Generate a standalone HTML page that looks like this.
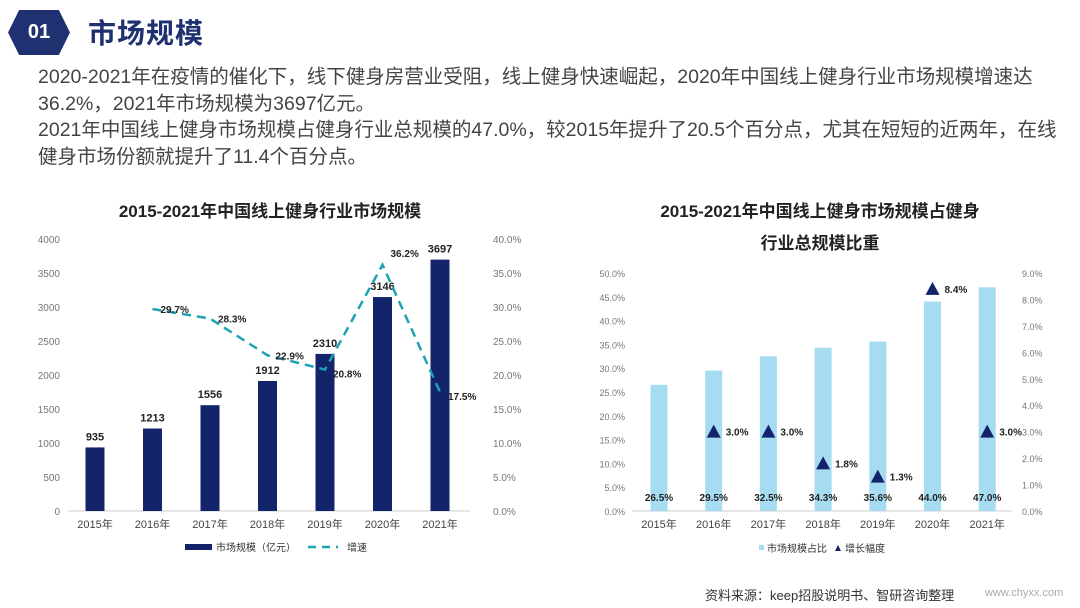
<!DOCTYPE html>
<html><head><meta charset="utf-8">
<style>
body{margin:0;width:1080px;height:608px;background:#fff;overflow:hidden;font-family:"Liberation Sans","Noto Sans CJK SC",sans-serif;position:relative}
.hex{position:absolute;left:8px;top:10px;width:62px;height:45px;background:#1f3170;clip-path:polygon(18% 0,82% 0,100% 50%,82% 100%,18% 100%,0 50%);color:#fff;font-weight:bold;font-size:20px;line-height:45px;text-align:center}
.title{position:absolute;left:88px;top:12px;font-size:28px;font-weight:bold;color:#1f3170;letter-spacing:1px}
.desc{position:absolute;left:38px;top:64px;font-size:19.5px;line-height:26.5px;color:#444;white-space:nowrap}
svg text{font-family:"Liberation Sans","Noto Sans CJK SC",sans-serif}
.src{position:absolute;left:705px;top:585px;font-size:13px;color:#333}
.url{position:absolute;left:985px;top:587px;font-size:11px;color:#aaa}
</style></head><body>
<div class="hex">01</div>
<div class="title">市场规模</div>
<div class="desc">2020-2021年在疫情的催化下，线下健身房营业受阻，线上健身快速崛起，2020年中国线上健身行业市场规模增速达<br>36.2%，2021年市场规模为3697亿元。<br>2021年中国线上健身市场规模占健身行业总规模的47.0%，较2015年提升了20.5个百分点，尤其在短短的近两年，在线<br>健身市场份额就提升了11.4个百分点。</div>
<svg id="c1" width="540" height="400" style="position:absolute;left:0;top:190px"></svg>
<svg id="c2" width="540" height="400" style="position:absolute;left:540px;top:190px"></svg>
<div class="src">资料来源：keep招股说明书、智研咨询整理</div>
<div class="url">www.chyxx.com</div>
<script>
const years=["2015年","2016年","2017年","2018年","2019年","2020年","2021年"];
const marketSize=[935,1213,1556,1912,2310,3146,3697];
const growth=[null,29.7,28.3,22.9,20.8,36.2,17.5];
const leftTicks=[0,500,1000,1500,2000,2500,3000,3500,4000];
const rightTicks=[0,5,10,15,20,25,30,35,40];
const shareVals=[26.5,29.5,32.5,34.3,35.6,44.0,47.0];
const shareInc=[null,3.0,3.0,1.8,1.3,8.4,3.0];
const shareLeftTicks=[0,5,10,15,20,25,30,35,40,45,50];
const shareRightTicks=[0,1,2,3,4,5,6,7,8,9];
const NS="http://www.w3.org/2000/svg";
function mk(svg,tag,attrs,txt){const e=document.createElementNS(NS,tag);for(const k in attrs)e.setAttribute(k,attrs[k]);if(txt!==undefined)e.textContent=txt;svg.appendChild(e);return e;}
(function(){
const s=document.getElementById('c1');
const y0=321,h=272,x0=95,dx=57.5;
const yL=v=>y0-v/4000*h, yR=v=>y0-v/40*h, xC=i=>x0+i*dx;
let t=mk(s,'text',{x:270,y:27,'text-anchor':'middle','font-size':17,'font-weight':'bold',fill:'#222'},'2015-2021年中国线上健身行业市场规模');

leftTicks.forEach(v=>{const e=mk(s,'text',{x:60,y:yL(v)+4,'text-anchor':'end','font-size':10,fill:'#777'},v);});
rightTicks.forEach(v=>{const e=mk(s,'text',{x:493,y:yR(v)+4,'font-size':10,fill:'#777'},v.toFixed(1)+'%');});
mk(s,'line',{x1:68,x2:470,y1:y0,y2:y0,stroke:'#ccc'});
years.forEach((y,i)=>{
 const b=mk(s,'rect',{x:xC(i)-9.5,y:yL(marketSize[i]),width:19,height:y0-yL(marketSize[i]),fill:'#13246a'});
 
 const l=mk(s,'text',{x:xC(i),y:yL(marketSize[i])-7,'text-anchor':'middle','font-size':11,'font-weight':'bold',fill:'#222'},marketSize[i]);
 
 const xl=mk(s,'text',{x:xC(i),y:y0+17,'text-anchor':'middle','font-size':11,fill:'#444'},y);
 
});
let pts=[];growth.forEach((g,i)=>{if(g!==null)pts.push(xC(i)+','+yR(g));});
const pl=mk(s,'polyline',{points:pts.join(' '),fill:'none',stroke:'#1ba3b3','stroke-width':2.5,'stroke-dasharray':'9,6'});

const offs=[null,[8,4],[8,4],[8,4],[8,8],[8,-8],[8,8]];
growth.forEach((g,i)=>{if(g===null)return;const e=mk(s,'text',{x:xC(i)+offs[i][0],y:yR(g)+offs[i][1],'font-size':10,'font-weight':'bold',fill:'#222'},g.toFixed(1)+'%');});
mk(s,'rect',{x:185,y:354,width:27,height:6,fill:'#13246a'});
let lg=mk(s,'text',{x:216,y:361,'font-size':10,fill:'#333'},'市场规模（亿元）');
mk(s,'line',{x1:308,x2:338,y1:357,y2:357,stroke:'#1ba3b3','stroke-width':2.5,'stroke-dasharray':'8,6'});
lg=mk(s,'text',{x:347,y:361,'font-size':10,fill:'#333'},'增速');
})();
(function(){
const s=document.getElementById('c2');
const y0=321,h=238,x0=119,dx=54.7;
const yL=v=>y0-v/50*h, yR=v=>y0-v/9*h, xC=i=>x0+i*dx;
let t=mk(s,'text',{x:280,y:27,'text-anchor':'middle','font-size':17,'font-weight':'bold',fill:'#222'},'2015-2021年中国线上健身市场规模占健身');

t=mk(s,'text',{x:280,y:59,'text-anchor':'middle','font-size':17,'font-weight':'bold',fill:'#222'},'行业总规模比重');

shareLeftTicks.forEach(v=>{const e=mk(s,'text',{x:85,y:yL(v)+4,'text-anchor':'end','font-size':9,fill:'#777'},v.toFixed(1)+'%');});
shareRightTicks.forEach(v=>{const e=mk(s,'text',{x:482,y:yR(v)+4,'font-size':9,fill:'#777'},v.toFixed(1)+'%');});
mk(s,'line',{x1:92,x2:472,y1:y0,y2:y0,stroke:'#ccc'});
years.forEach((y,i)=>{
 const b=mk(s,'rect',{x:xC(i)-8.5,y:yL(shareVals[i]),width:17,height:y0-yL(shareVals[i]),fill:'#a6dcf2'});
 
 const l=mk(s,'text',{x:xC(i),y:y0-10,'text-anchor':'middle','font-size':10,'font-weight':'bold',fill:'#222'},shareVals[i].toFixed(1)+'%');
 
 const xl=mk(s,'text',{x:xC(i),y:y0+17,'text-anchor':'middle','font-size':11,'fill':'#444'},y);
 
 if(shareInc[i]!==null){const yy=yR(shareInc[i]);
  const m=mk(s,'polygon',{points:(xC(i)-7)+','+(yy+6)+' '+(xC(i)+7)+','+(yy+6)+' '+xC(i)+','+(yy-7),fill:'#13246a'});
  
  const ml=mk(s,'text',{x:xC(i)+12,y:yy+4,'font-size':10,'font-weight':'bold',fill:'#222'},shareInc[i].toFixed(1)+'%');
  }
});
mk(s,'rect',{x:219,y:355,width:5,height:5,fill:'#a6dcf2'});
let lg=mk(s,'text',{x:227,y:362,'font-size':10,fill:'#333'},'市场规模占比');
mk(s,'polygon',{points:'295,361 301,361 298,355',fill:'#13246a'});
lg=mk(s,'text',{x:305,y:362,'font-size':10,fill:'#333'},'增长幅度');
})();
</script>
</body></html>
